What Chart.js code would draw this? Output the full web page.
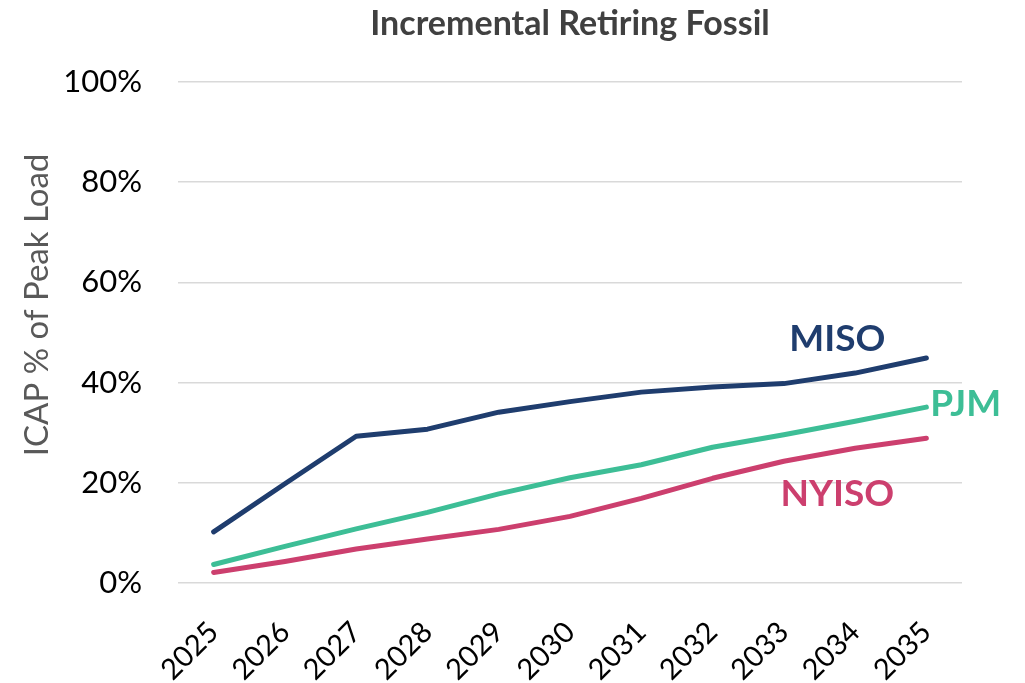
<!DOCTYPE html>
<html>
<head>
<meta charset="utf-8">
<script src="https://cdn.jsdelivr.net/npm/chart.js@4"></script>
<style>
  html,body{margin:0;padding:0;background:#fff;}
  #wrap{width:1025px;height:683px;position:relative;}
</style>
</head>
<body>
<div id="wrap"><canvas id="c" width="1025" height="683"></canvas></div>
<script>
const years = ['2025','2026','2027','2028','2029','2030','2031','2032','2033','2034','2035'];
const miso  = [10.2, 19.8, 29.3, 30.7, 34.1, 36.2, 38.1, 39.1, 39.8, 41.9, 44.9];
const pjm   = [3.7, 7.3, 10.8, 14.1, 17.8, 21.0, 23.6, 27.1, 29.6, 32.3, 35.1];
const nyiso = [2.1, 4.3, 6.8, 8.8, 10.7, 13.3, 16.9, 20.9, 24.3, 26.9, 28.9];
const seriesNames = ['MISO','PJM','NYISO'];
const seriesColors = ['#1F3D6E','#3DBE96','#CC3F6E'];
const yTicks = [0,20,40,60,80,100];
const chartTitle = 'Incremental Retiring Fossil';
const yTitle = 'ICAP % of Peak Load';

const FONT = 'Lato, "Open Sans", sans-serif';

const labelPlugin = {
  id:'seriesLabels',
  afterDatasetsDraw(chart){
    const ctx = chart.ctx;
    const ca = chart.chartArea;
    ctx.save();
    // title centred over the plot area
    ctx.font = 'bold 34px ' + FONT;
    ctx.fillStyle = '#404040';
    ctx.textAlign = 'center';
    ctx.textBaseline = 'middle';
    ctx.fillText(chartTitle, (ca.left + ca.right)/2, 24);

    // y-axis title
    ctx.save();
    ctx.font = '33px ' + FONT;
    ctx.fillStyle = '#595959';
    ctx.translate(37, ca.top + (ca.bottom - ca.top) * 0.445);
    ctx.rotate(-Math.PI/2);
    ctx.fillText(yTitle, 0, 0);
    ctx.restore();

    ctx.font = 'bold 37px ' + FONT;
    const place = [
      {i:0, dx:-89, dy:-19, align:'center'},
      {i:1, dx:4, dy:-3, align:'left'},
      {i:2, dx:-89, dy:56, align:'center'}
    ];
    place.forEach(p=>{
      const meta = chart.getDatasetMeta(p.i);
      const pt = meta.data[meta.data.length-1];
      ctx.fillStyle = seriesColors[p.i];
      ctx.textAlign = p.align;
      ctx.fillText(seriesNames[p.i], pt.x + p.dx, pt.y + p.dy);
    });
    ctx.restore();
  }
};

new Chart(document.getElementById('c'), {
  type:'line',
  data:{
    labels: years,
    datasets:[
      {label:seriesNames[0], data:miso, borderColor:seriesColors[0]},
      {label:seriesNames[1], data:pjm, borderColor:seriesColors[1]},
      {label:seriesNames[2], data:nyiso, borderColor:seriesColors[2]}
    ].map(d=>Object.assign(d,{borderWidth:5, pointRadius:0, tension:0, fill:false, borderCapStyle:'round', borderJoinStyle:'round'}))
  },
  options:{
    responsive:false,
    animation:false,
    layout:{padding:{left:0, right:63, top:82, bottom:0}},
    plugins:{
      legend:{display:false},
      tooltip:{enabled:false},
      title:{display:false}
    },
    scales:{
      x:{
        offset:true,
        afterFit(axis){ axis.height = 100; },
        grid:{display:false, drawTicks:false},
        border:{display:false},
        ticks:{color:'#000', font:{family:FONT, size:29}, maxRotation:45, minRotation:45, padding:32}
      },
      y:{
        min:0, max:100,
        afterBuildTicks(axis){ axis.ticks = yTicks.map(v=>({value:v})); },
        afterFit(axis){ axis.width = 178; },
        grid:{color:'#d9d9d9', lineWidth:1.5, drawTicks:false},
        border:{display:false},
        ticks:{color:'#000', font:{family:FONT, size:31}, padding:36, callback:v=>v+'%'},
        title:{display:false}
      }
    }
  },
  plugins:[labelPlugin]
});
</script>
</body>
</html>
